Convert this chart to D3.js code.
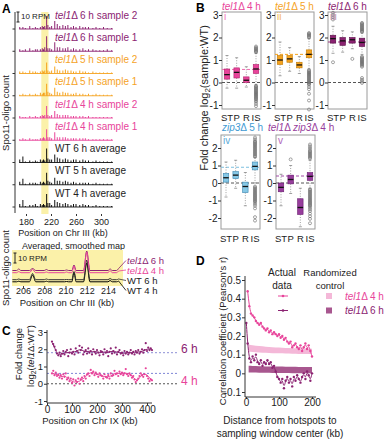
<!DOCTYPE html>
<html><head><meta charset="utf-8">
<script src="https://cdn.jsdelivr.net/npm/d3@7"></script>
<style>
body{margin:0;background:#fff;}
svg text{font-family:"Liberation Sans",Arial,Helvetica,sans-serif;}
</style></head>
<body><svg id="chart" width="384" height="440"></svg>
<script>
// ================= DATA =================
// Panel A (upper): hotspot positions (kb) and heights (RPM) per track
const hotspotKb = [170,175,179,186,191,195,198,203,206,208,210,213,215,218,221,226,230,234,239,243,247,252,256,260,266,271,275,280,287,292,298,304,310,317];
const trackLabels = ["tel1Δ 6 h sample 2","tel1Δ 6 h sample 1","tel1Δ 5 h sample 2","tel1Δ 5 h sample 1","tel1Δ 4 h sample 2","tel1Δ 4 h sample 1","WT 6 h average","WT 5 h average","WT 4 h average"];
const t6s2 = [2,2,1,3,1,2,1,2,3,2,3,13,4,2,3,8,5,3,4,3,4,2,3,2,3,2,2,2,1,2,1,2,1,1];
const t6s1 = [2,1,2,3,1,2,2,2,3,2,4,15,3,3,2,9,4,4,3,3,4,2,3,2,2,3,1,2,2,1,1,1,2,1];
const t5s2 = [2,2,1,3,2,2,1,2,3,2,3,11,3,2,3,7,4,3,3,4,3,3,2,2,3,2,2,1,2,1,1,1,1,1];
const t5s1 = [1,2,1,2,1,2,1,3,2,3,3,12,4,3,2,8,4,3,4,3,3,2,2,3,2,2,1,2,1,2,1,1,1,1];
const t4s2 = [2,1,1,2,1,2,1,2,3,2,3,12,3,2,3,7,4,3,3,3,3,2,2,2,2,2,1,2,1,1,1,1,1,1];
const t4s1 = [1,2,1,2,1,1,1,2,2,3,2,11,3,3,2,8,3,3,3,3,2,2,2,2,2,2,2,1,1,1,1,1,1,1];
const wt6h = [3,6,1,2,1,2,1,3,2,3,2,14,4,3,3,8,5,4,3,4,3,2,3,3,2,3,2,2,1,2,1,1,1,1];
const wt5h = [3,6,1,2,2,2,1,3,2,3,2,12,4,3,2,7,4,4,3,4,3,2,3,2,2,2,2,2,1,2,1,1,1,1];
const wt4h = [3,7,1,2,2,3,1,3,2,3,2,13,4,4,2,7,5,4,3,4,3,2,3,3,2,3,2,2,1,2,1,1,1,1];
const trackValues = [t6s2,t6s1,t5s2,t5s1,t4s2,t4s1,wt6h,wt5h,wt4h];
const aTicks = [180,220,260,300];

// Panel A (lower): averaged smoothed map
const mapKb  = [205.0,205.4,205.6,205.8,206.6,206.9,207.2,208.0,208.2,208.4,209.9,210.1,210.3,210.6,210.8,211.0,211.7,212.0,212.3,214.0,214.2,214.4,214.8,215.0];
const mapT6  = [0.5,0.5,2.0,0.5,0.5,2.5,0.5,0.5,1.5,0.5,0.5,1.0,0.5,0.5,6.0,0.5,0.5,20,0.5,0.5,2.0,0.5,0.5,2.5];
const mapT4  = [0.3,0.3,1.5,0.3,0.3,3.5,0.3,0.3,1.0,0.3,0.3,1.0,0.3,0.3,7.0,0.3,0.3,21,0.3,0.3,2.5,0.3,0.3,2.0];
const mapWT6 = [0.3,0.3,1.0,0.3,0.3,6.5,0.3,0.3,1.0,0.3,0.3,0.5,0.3,0.3,8.5,0.3,0.3,20,0.3,0.3,1.5,0.3,0.3,1.0];
const mapWT4 = [0.2,0.2,0.8,0.2,0.2,7.0,0.2,0.2,0.8,0.2,0.2,0.5,0.2,0.2,9.5,0.2,0.2,19,0.2,0.2,1.5,0.2,0.2,1.0];
const mapLabels = ["tel1Δ 6 h","tel1Δ 4 h","WT 6 h","WT 4 h"];
const mapTicks = [206,208,210,212,214];

// Panel B: boxplot statistics per category
const bCats = ["ST","P","R","IS"];
const bTitles = ["tel1Δ 4 h","tel1Δ 5 h","tel1Δ 6 h","zip3Δ 5 h","tel1Δ zip3Δ 4 h"];
const bRoman = ["i","ii","iii","iv","v"];
const iQ1=[0.15,0.2,0.0,0.4], iMed=[0.35,0.45,0.1,0.6], iQ3=[0.6,0.65,0.25,0.8], iLo=[-0.25,-0.25,-0.2,-0.1], iHi=[1.2,1.1,0.7,1.3];
const iOut=[[],[],[],[1.35,1.39,1.43,1.47,1.51,1.55,1.6,-0.15,-0.19,-0.23,-0.27,-0.31,-0.35,-0.39,-0.43,-0.47,-0.51,-0.55,-0.59,-0.63,-0.67,-0.71,-0.75,-0.8,-0.86,-0.95,-1.05]];
const iMean=0.58;
const iiQ1=[0.8,0.9,0.65,1.1], iiMed=[1.0,1.05,0.78,1.25], iiQ3=[1.2,1.2,0.9,1.45], iiLo=[0.3,0.5,0.4,0.6], iiHi=[1.8,1.55,1.15,1.95];
const iiOut=[[],[],[],[2.0,2.04,2.08,2.12,2.16,2.2,0.55,0.5,0.46,0.42,0.38,0.34,0.3,0.26,0.22,0.18,0.14,0.1,0.06,0.02,-0.02,-0.06,-0.1,-0.2,-0.3,-0.5,-0.8,-1.2]];
const iiMean=1.25;
const iiiQ1=[1.75,1.65,1.75,1.6], iiiMed=[1.95,1.85,1.9,1.78], iiiQ3=[2.1,2.0,2.0,1.97], iiiLo=[1.3,1.35,1.5,1.25], iiiHi=[2.5,2.3,2.25,2.2];
const iiiOut=[[2.8,2.9,3.0,3.1,0.9],[],[1.05],[2.25,2.29,2.33,2.37,2.41,2.45,2.49,2.53,2.57,2.61,2.65,1.15,1.11,1.07,1.03,0.99,0.95,0.91,0.87,0.83,0.79,0.75,0.7,0.2,0.12,0.05,-0.02]];
const iiiMean=1.8;
const ivQ1=[0.05,0.25,-0.55,0.75], ivMed=[0.3,0.45,-0.2,0.95], ivQ3=[0.55,0.65,0.05,1.2], ivLo=[-0.8,-0.3,-1.3,0.0], ivHi=[1.2,1.3,0.6,1.45];
const ivOut=[[],[],[],[1.5,1.56,1.62,1.68,1.74,1.8,1.86,1.92,1.98,2.04,2.1,2.16,2.22,2.28,2.34,2.4,2.5,2.6,-0.2,-0.26,-0.32,-0.38,-0.44,-0.5,-0.56,-0.62,-0.68,-0.74,-0.8,-0.86,-0.92,-0.98,-1.04,-1.1,-1.2,-1.3,-1.45,-1.95,-2.15]];
const ivMean=0.9;
const vQ1=[-0.5,-0.05,-1.8,0.15], vMed=[-0.25,0.2,-1.4,0.38], vQ3=[0.0,0.45,-0.9,0.6], vLo=[-1.3,-0.6,-2.5,-0.3], vHi=[0.5,1.0,-0.3,1.3];
const vOut=[[],[1.35],[],[1.4,1.46,1.52,1.58,1.64,1.7,1.76,1.82,1.9,2.0,2.1,2.2,-0.36,-0.42,-0.48,-0.54,-0.6,-0.66,-0.72,-0.78,-0.84,-0.9,-0.96,-1.02,-1.08,-1.14,-1.2,-1.26,-1.32,-1.4,-1.5,-1.6,-1.75,-1.9,-2.05,-2.3]];
const vMean=0.4;

// Panel C: fold change along Chr IX
const cKb=[20,25,30,35,40,45,50,55,60,65,70,75,80,85,90,95,100,105,110,115,120,125,130,135,140,145,150,155,160,165,170,175,180,185,190,195,200,205,210,215,220,225,230,235,240,245,250,255,260,265,270,275,280,285,290,295,300,305,310,315,320,325,330,335,340,345,350,355,360,365,370,375,380,385,390,395,400,405,410,415,420];
const c6h=[2.45,2.3,2.15,1.95,1.75,1.65,1.8,1.6,1.75,1.9,1.7,1.85,1.95,1.6,1.8,2.0,1.75,1.85,1.7,2.05,1.9,1.8,2.2,1.95,2.1,1.7,1.85,1.95,1.75,2.05,1.8,1.9,1.7,2.0,1.85,1.75,1.95,1.8,1.65,1.9,1.85,1.7,2.0,1.8,1.9,1.6,1.85,2.05,1.75,1.9,1.8,2.1,1.7,1.85,1.95,1.75,1.8,1.65,1.9,1.75,1.85,1.7,1.8,1.95,1.75,1.85,1.7,1.9,1.8,1.95,1.75,1.85,2.0,1.8,1.95,2.35,1.9,2.1,1.95,2.05,1.95];
const c4h=[0.6,0.75,0.5,0.65,0.45,0.55,0.35,0.5,0.3,0.55,0.4,0.6,0.25,0.35,0.15,0.3,0.05,0.25,-0.1,0.2,0.1,0.3,0.0,0.25,0.35,0.15,0.45,0.3,0.55,0.6,0.45,0.8,0.6,0.7,0.5,0.65,0.55,0.4,0.6,0.5,0.45,0.3,0.55,0.4,0.35,0.5,0.3,0.6,0.45,0.5,0.75,0.55,0.6,0.45,0.7,0.55,0.65,0.5,0.6,0.85,0.55,0.45,0.6,0.5,0.35,0.45,0.25,0.1,0.2,0.3,0.45,0.6,0.5,0.4,0.55,0.9,0.45,0.3,0.15,0.25,0.2];
const cSmoothKb=[20,30,40,50,60,70,80,90,100,110,120,130,140,150,160,170,180,190,200,210,220,230,240,250,260,270,280,290,300,310,320,330,340,350,360,370,380,390,400,410,420];
const c6hSmooth=[2.4,2.1,1.8,1.7,1.72,1.78,1.8,1.82,1.83,1.85,1.9,1.97,1.95,1.88,1.87,1.88,1.85,1.86,1.85,1.8,1.82,1.84,1.8,1.85,1.87,1.88,1.83,1.82,1.76,1.78,1.8,1.8,1.8,1.82,1.84,1.85,1.88,1.95,2.0,2.02,2.0];
const c4hSmooth=[0.6,0.58,0.52,0.45,0.42,0.45,0.35,0.25,0.15,0.1,0.12,0.15,0.25,0.35,0.5,0.6,0.65,0.6,0.55,0.5,0.45,0.42,0.4,0.42,0.5,0.6,0.6,0.6,0.6,0.62,0.6,0.55,0.45,0.3,0.2,0.35,0.5,0.55,0.5,0.35,0.2];
const cLevels=[1.8,0.6,0];
const cYTicks=[-1,0,1,2,3], cXTicks=[0,100,200,300,400];

// Panel D: correlation vs distance
const dKbPink=[5,10,15,20,25,30,35,40,45,50,55,60,65,70,75,80,85,90,95,100,105,110,115,120,125,130,135,140,145,150,155,160,165,170,175,180,185,190,195,200];
const dPink=[0.44,0.36,0.32,0.31,0.30,0.28,0.27,0.26,0.27,0.25,0.24,0.23,0.24,0.22,0.23,0.21,0.22,0.21,0.20,0.21,0.19,0.20,0.18,0.19,0.17,0.16,0.17,0.14,0.15,0.16,0.14,0.13,0.15,0.12,0.14,0.16,0.13,0.15,0.12,0.09];
const dKbPurple=[1,5,10,15,20,25,30,35,40,45,50,55,60,65,70,75,80,85,90,95,100,105,110,115,120,125,130,135,140,145,150,155,160,165,170,175,180,185,190,195,200];
const dPurple=[0.27,0.16,0.08,0.06,0.09,0.07,0.10,0.06,0.05,0.07,0.04,0.06,0.05,0.07,0.05,0.06,0.03,0.04,0.01,-0.02,-0.03,-0.05,-0.03,-0.08,-0.04,-0.02,-0.05,-0.03,-0.07,-0.02,-0.04,-0.01,-0.03,-0.05,-0.02,0.00,-0.03,0.01,-0.01,-0.04,0.00];
const dBandKb=[8,20,40,60,80,100,120,140,160,180,200];
const dPinkLo=[0.115,0.114,0.112,0.110,0.108,0.107,0.106,0.105,0.104,0.104,0.103];
const dPinkHi=[0.155,0.150,0.146,0.143,0.140,0.138,0.136,0.135,0.134,0.133,0.132];
const dPurpLo=[0.004,0.004,0.003,0.003,0.002,0.002,0.002,0.001,0.001,0.001,0.001];
const dPurpHi=[0.040,0.039,0.038,0.037,0.036,0.036,0.035,0.035,0.034,0.034,0.034];
const dYTicks=[-0.1,0,0.1,0.2,0.3,0.4,0.5], dXTicks=[0,100,200];
const dLegend=["tel1Δ 4 h","tel1Δ 6 h"];

// ================= STYLE =================
const PINK="#e8449a", ORANGE="#f5a31f", PURPLE="#8c2372", BLUE="#86c8e6", BLUE_T="#3f9ad3", VIO="#973d9c", YEL="#fbf1a9";

// ================= DRAW =================
const svg=d3.select("#chart");
function rich(sel,str){
  let pend=0;
  str.split(/(tel1|zip3|log2)/).forEach(p=>{
    if(!p) return;
    if(p==="log2"){
      const a=sel.append("tspan").text("log"); if(pend){a.attr("dy",pend);pend=0;}
      sel.append("tspan").attr("font-size","0.72em").attr("dy",2).text("2"); pend=-2; return;
    }
    const t=sel.append("tspan").text(p);
    if(p==="tel1"||p==="zip3") t.attr("font-style","italic");
    if(pend){t.attr("dy",pend);pend=0;}
  });
  return sel;
}
function T(x,y,str,o={}){
  const t=svg.append("text").attr("x",x).attr("y",y).attr("font-size",o.size||10)
    .attr("fill",o.fill||"#222").attr("text-anchor",o.anchor||"start");
  if(o.weight) t.attr("font-weight",o.weight);
  if(o.rot!=null) t.attr("transform",`rotate(${o.rot},${x},${y})`);
  return rich(t,str);
}
function styleAxis(g,size){
  g.selectAll("text").attr("font-size",size||10).attr("fill","#222");
  g.selectAll("line").attr("stroke","#333");
  g.select(".domain").attr("stroke","#333");
}

// panel letters
T(2,13,"A",{size:12,weight:"bold",fill:"#000"});
T(196,12,"B",{size:12,weight:"bold",fill:"#000"});
T(2,335,"C",{size:12,weight:"bold",fill:"#000"});
T(196,265,"D",{size:12,weight:"bold",fill:"#000"});

// ---------- Panel A upper ----------
const xA=d3.scaleLinear().domain([180,300]).range([26,101]);
const rpm=d3.scaleLinear().domain([0,10]).range([0,10]);
const trackY=d3.scalePoint().domain(d3.range(trackLabels.length)).range([29,207]);
const trackColor=[PURPLE,PURPLE,ORANGE,ORANGE,PINK,PINK,"#111","#111","#111"];
svg.append("rect").attr("x",xA(204.5)).attr("y",12).attr("width",xA(216)-xA(204.5)).attr("height",202).attr("fill",YEL);
svg.append("line").attr("x1",15).attr("x2",15).attr("y1",12).attr("y2",213).attr("stroke","#333");
trackLabels.forEach((lab,i)=>{
  const y0=trackY(i), col=trackColor[i];
  svg.append("line").attr("x1",12.5).attr("x2",15).attr("y1",y0).attr("y2",y0).attr("stroke","#333");
  svg.append("line").attr("x1",xA(169)).attr("x2",xA(319)).attr("y1",y0).attr("y2",y0).attr("stroke",col).attr("stroke-width",0.9);
  svg.append("g").selectAll("line").data(trackValues[i]).join("line")
    .attr("x1",(d,j)=>xA(hotspotKb[j])).attr("x2",(d,j)=>xA(hotspotKb[j]))
    .attr("y1",y0).attr("y2",d=>y0-rpm(d)).attr("stroke",col).attr("stroke-width",1);
  T(55,y0-10.5,lab,{fill:col==="#111"?"#222":col});
});
svg.append("line").attr("x1",18).attr("x2",18).attr("y1",12).attr("y2",12+rpm(10)).attr("stroke","#222");
svg.append("line").attr("x1",16.5).attr("x2",19.5).attr("y1",12).attr("y2",12).attr("stroke","#222");
svg.append("line").attr("x1",16.5).attr("x2",19.5).attr("y1",12+rpm(10)).attr("y2",12+rpm(10)).attr("stroke","#222");
T(21,18.5,"10 RPM",{size:8});
{
  const g=svg.append("g").attr("transform","translate(0,214)").call(d3.axisBottom(xA).tickValues(aTicks).tickSize(2).tickPadding(3));
  g.select(".domain").remove(); styleAxis(g,9);
}
T(63,236,"Position on Chr III (kb)",{anchor:"middle",size:9});
T(9,113,"Spo11-oligo count",{anchor:"middle",rot:-90,size:9.5});

// ---------- Panel A lower ----------
const xM=d3.scaleLinear().domain([205,215]).range([12.4,118.6]);
T(22,248.5,"Averaged, smoothed map",{size:9});
svg.append("rect").attr("x",12).attr("y",250).attr("width",111).attr("height",36).attr("fill",YEL);
svg.append("line").attr("x1",15).attr("x2",15).attr("y1",253).attr("y2",253+rpm(10)).attr("stroke","#222");
svg.append("line").attr("x1",13.5).attr("x2",16.5).attr("y1",253).attr("y2",253).attr("stroke","#222");
svg.append("line").attr("x1",13.5).attr("x2",16.5).attr("y1",253+rpm(10)).attr("y2",253+rpm(10)).attr("stroke","#222");
T(18,261,"10 RPM",{size:8});
const mapSeries=[mapT6,mapT4,mapWT6,mapWT4];
const mapBase=[271,273,280,282], mapCol=[PURPLE,PINK,"#333","#000"], mapLabY=[264,273.5,284,294];
[3,2,0,1].forEach(k=>{
  const vals=mapSeries[k], b=mapBase[k];
  const line=d3.line().x((d,j)=>xM(mapKb[j])).y(d=>b-rpm(d)).curve(d3.curveMonotoneX);
  svg.append("path").attr("d",line(vals)).attr("fill","none").attr("stroke",mapCol[k]).attr("stroke-width",1);
  svg.append("line").attr("x1",xM(215)).attr("y1",b-rpm(vals[vals.length-1])).attr("x2",126).attr("y2",mapLabY[k]-3.5)
    .attr("stroke",mapCol[k]).attr("stroke-width",0.8);
  T(127,mapLabY[k],mapLabels[k],{fill:k<2?mapCol[k]:"#222",size:9.5});
});
{
  const g=svg.append("g").attr("transform","translate(0,286)").call(d3.axisBottom(xM).tickValues(mapTicks).tickSize(2).tickPadding(0));
  g.select(".domain").remove(); styleAxis(g,9);
}
T(67,305.5,"Position on Chr III (kb)",{anchor:"middle",size:9.5});
T(9,268,"Spo11-oligo count",{anchor:"middle",rot:-90,size:9.5});

// ---------- Panel B ----------
const bPanels=[
  {q1:iQ1,med:iMed,q3:iQ3,lo:iLo,hi:iHi,out:iOut,mean:iMean},
  {q1:iiQ1,med:iiMed,q3:iiQ3,lo:iiLo,hi:iiHi,out:iiOut,mean:iiMean},
  {q1:iiiQ1,med:iiiMed,q3:iiiQ3,lo:iiiLo,hi:iiiHi,out:iiiOut,mean:iiiMean},
  {q1:ivQ1,med:ivMed,q3:ivQ3,lo:ivLo,hi:ivHi,out:ivOut,mean:ivMean},
  {q1:vQ1,med:vMed,q3:vQ3,lo:vLo,hi:vHi,out:vOut,mean:vMean}
];
const bLayout=[
  {x0:222,x1:261,row:0,fill:PINK,stroke:"#b0226c",title:PINK,roman:"#f07cbc",mean:"#f06cb0",tx:222},
  {x0:275,x1:314,row:0,fill:ORANGE,stroke:"#c07800",title:ORANGE,roman:"#f5b84e",mean:"#f5a31f",tx:275},
  {x0:328,x1:367,row:0,fill:PURPLE,stroke:"#5a0f48",title:PURPLE,roman:"#b58aab",mean:"#9a3a80",tx:328},
  {x0:221,x1:260,row:1,fill:BLUE,stroke:"#3d86b0",title:BLUE_T,roman:"#5aa9d6",mean:"#7cc0e0",tx:222},
  {x0:276,x1:315,row:1,fill:VIO,stroke:"#6a1d70",title:VIO,roman:"#b266bb",mean:"#a04aa6",tx:268}
];
const rows=[
  {y:d3.scaleLinear().domain([-1,3]).range([105,15]),top:12,bot:109,ticks:[-1,0,1,2,3],titleY:10,labY:120.5,romY:20},
  {y:d3.scaleLinear().domain([-2,2]).range([218,148]),top:135,bot:229,ticks:[-2,-1,0,1,2],titleY:131,labY:241.5,romY:144}
];
bPanels.forEach((P,k)=>{
  const L=bLayout[k], R=rows[L.row], y=R.y;
  const x=d3.scalePoint().domain(bCats).range([L.x0+5,L.x1-5]);
  const g=svg.append("g");
  g.append("rect").attr("x",L.x0).attr("y",R.top).attr("width",L.x1-L.x0).attr("height",R.bot-R.top).attr("fill","none").attr("stroke","#9a9a9a");
  const ax=g.append("g").attr("transform",`translate(${L.x0},0)`).call(d3.axisLeft(y).tickValues(R.ticks).tickSize(3).tickPadding(0.5).tickFormat(d=>String(d)));
  ax.select(".domain").remove(); styleAxis(ax,10);
  bCats.forEach(c=>T(x(c),R.labY,c,{anchor:"middle",size:9.5}));
  g.append("line").attr("x1",L.x0).attr("x2",L.x1).attr("y1",y(0)).attr("y2",y(0)).attr("stroke","#555").attr("stroke-dasharray","3,2");
  g.append("line").attr("x1",L.x0).attr("x2",L.x1).attr("y1",y(P.mean)).attr("y2",y(P.mean)).attr("stroke",L.mean).attr("stroke-dasharray","3,2");
  const bw=5.5;
  bCats.forEach((c,j)=>{
    const cx=x(c);
    g.append("line").attr("x1",cx).attr("x2",cx).attr("y1",y(P.hi[j])).attr("y2",y(P.q3[j])).attr("stroke","#888").attr("stroke-width",0.8).attr("stroke-dasharray","1,1.5");
    g.append("line").attr("x1",cx).attr("x2",cx).attr("y1",y(P.q1[j])).attr("y2",y(P.lo[j])).attr("stroke","#888").attr("stroke-width",0.8).attr("stroke-dasharray","1,1.5");
    [P.hi[j],P.lo[j]].forEach(v=>g.append("line").attr("x1",cx-1.5).attr("x2",cx+1.5).attr("y1",y(v)).attr("y2",y(v)).attr("stroke","#888").attr("stroke-width",0.8));
    g.selectAll(null).data(P.out[j]).join("circle").attr("cx",cx).attr("cy",d=>y(d)).attr("r",1.5)
      .attr("fill","none").attr("stroke","#666").attr("stroke-width",0.6);
    g.append("rect").attr("x",cx-bw/2).attr("width",bw).attr("y",y(P.q3[j])).attr("height",y(P.q1[j])-y(P.q3[j]))
      .attr("fill",L.fill).attr("stroke",L.stroke).attr("stroke-width",0.6);
    g.append("line").attr("x1",cx-bw/2).attr("x2",cx+bw/2).attr("y1",y(P.med[j])).attr("y2",y(P.med[j])).attr("stroke","#111").attr("stroke-width",1.3);
  });
  T(L.tx,R.titleY,bTitles[k],{fill:L.title,size:10});
  T(L.x0+2,R.romY,bRoman[k],{fill:L.roman,size:10});
});
T(207.5,98,"Fold change log2(sample:WT)",{anchor:"middle",rot:-90,size:11});

// ---------- Panel C ----------
const xC=d3.scaleLinear().domain([0,400]).range([47,147]);
const yC=d3.scaleLinear().domain([-1,3]).range([401,332]);
svg.append("line").attr("x1",47).attr("x2",177).attr("y1",yC(cLevels[0])).attr("y2",yC(cLevels[0])).attr("stroke","#8d8fd6").attr("stroke-dasharray","2,2");
svg.append("line").attr("x1",47).attr("x2",177).attr("y1",yC(cLevels[1])).attr("y2",yC(cLevels[1])).attr("stroke","#7f86d6").attr("stroke-dasharray","2,2");
svg.append("line").attr("x1",47).attr("x2",177).attr("y1",yC(cLevels[2])).attr("y2",yC(cLevels[2])).attr("stroke","#555").attr("stroke-dasharray","2,2");
[[c4h,c4hSmooth,PINK],[c6h,c6hSmooth,PURPLE]].forEach(([pts,sm,col])=>{
  svg.append("g").selectAll("circle").data(pts).join("circle").attr("cx",(d,j)=>xC(cKb[j])).attr("cy",d=>yC(d)).attr("r",1.1).attr("fill",col);
  svg.append("path").attr("d",d3.line().x((d,j)=>xC(cSmoothKb[j])).y(d=>yC(d)).curve(d3.curveMonotoneX)(sm))
    .attr("fill","none").attr("stroke",col).attr("stroke-width",1);
});
{
  const gy=svg.append("g").attr("transform","translate(47,0)").call(d3.axisLeft(yC).tickValues(cYTicks).tickSize(3).tickPadding(1).tickFormat(d=>String(d)));
  gy.select(".domain").attr("d","M0,330V403"); styleAxis(gy,9.5);
  const gx=svg.append("g").attr("transform","translate(0,403)").call(d3.axisBottom(xC).tickValues(cXTicks).tickSize(2).tickPadding(1));
  gx.select(".domain").attr("d","M47,0H152"); styleAxis(gx,10);
}
T(181,353,"6 h",{fill:PURPLE,size:12});
T(181,385,"4 h",{fill:PINK,size:12});
T(22,354,"Fold change",{anchor:"middle",rot:-90,size:9.5});
T(34,356,"log2(tel1Δ:WT)",{anchor:"middle",rot:-90,size:9.5});
T(90,424,"Position on Chr IX (kb)",{anchor:"middle",size:9.5});

// ---------- Panel D ----------
const xD=d3.scaleLinear().domain([0,200]).range([246,312]);
const yD=d3.scaleLinear().domain([-0.1,0.5]).range([392,280]);
const area=(lo,hi)=>d3.area().x((d,j)=>xD(dBandKb[j])).y0((d,j)=>yD(lo[j])).y1((d,j)=>yD(hi[j])).curve(d3.curveMonotoneX)(dBandKb);
svg.append("path").attr("d",area(dPinkLo,dPinkHi)).attr("fill","#f4b8d8");
svg.append("path").attr("d",area(dPurpLo,dPurpHi)).attr("fill","#a8578f");
[[dKbPink,dPink,PINK],[dKbPurple,dPurple,PURPLE]].forEach(([kb,v,col])=>{
  svg.append("path").attr("d",d3.line().x((d,j)=>xD(kb[j])).y(d=>yD(d)).curve(d3.curveBasis)(v)).attr("fill","none").attr("stroke",col).attr("stroke-width",1);
  svg.append("g").selectAll("circle").data(v).join("circle").attr("cx",(d,j)=>xD(kb[j])).attr("cy",d=>yD(d)).attr("r",1.2).attr("fill",col);
});
{
  const gy=svg.append("g").attr("transform","translate(245,0)").call(d3.axisLeft(yD).tickValues(dYTicks).tickSize(3).tickPadding(1).tickFormat(d=>String(d)));
  gy.select(".domain").attr("d","M0,276V397"); styleAxis(gy,10);
  const gx=svg.append("g").attr("transform","translate(0,397)").call(d3.axisBottom(xD).tickValues(dXTicks).tickSize(2).tickPadding(0));
  gx.select(".domain").attr("d","M245,0H316"); styleAxis(gx,10);
}
T(226,331,"Correlation coefficient (Pearson's r)",{anchor:"middle",rot:-90,size:9.5});
T(280,424,"Distance from hotspots to",{anchor:"middle",size:10});
T(280,437,"sampling window center (kb)",{anchor:"middle",size:10});
T(282,276,"Actual",{anchor:"middle"});
T(282,289,"data",{anchor:"middle"});
T(330,276,"Randomized",{anchor:"middle",size:9.5});
T(330,289,"control",{anchor:"middle",size:9.5});
[[PINK,"#f4b8d8",296],[PURPLE,"#a8578f",310.5]].forEach(([c,bc,yy],k)=>{
  svg.append("line").attr("x1",278).attr("x2",288).attr("y1",yy).attr("y2",yy).attr("stroke",c);
  svg.append("circle").attr("cx",283).attr("cy",yy).attr("r",1.3).attr("fill",c);
  svg.append("rect").attr("x",326).attr("y",yy-3).attr("width",6).attr("height",6).attr("fill",bc);
  T(345,yy+3.5,dLegend[k],{fill:c});
});
</script></body></html>
